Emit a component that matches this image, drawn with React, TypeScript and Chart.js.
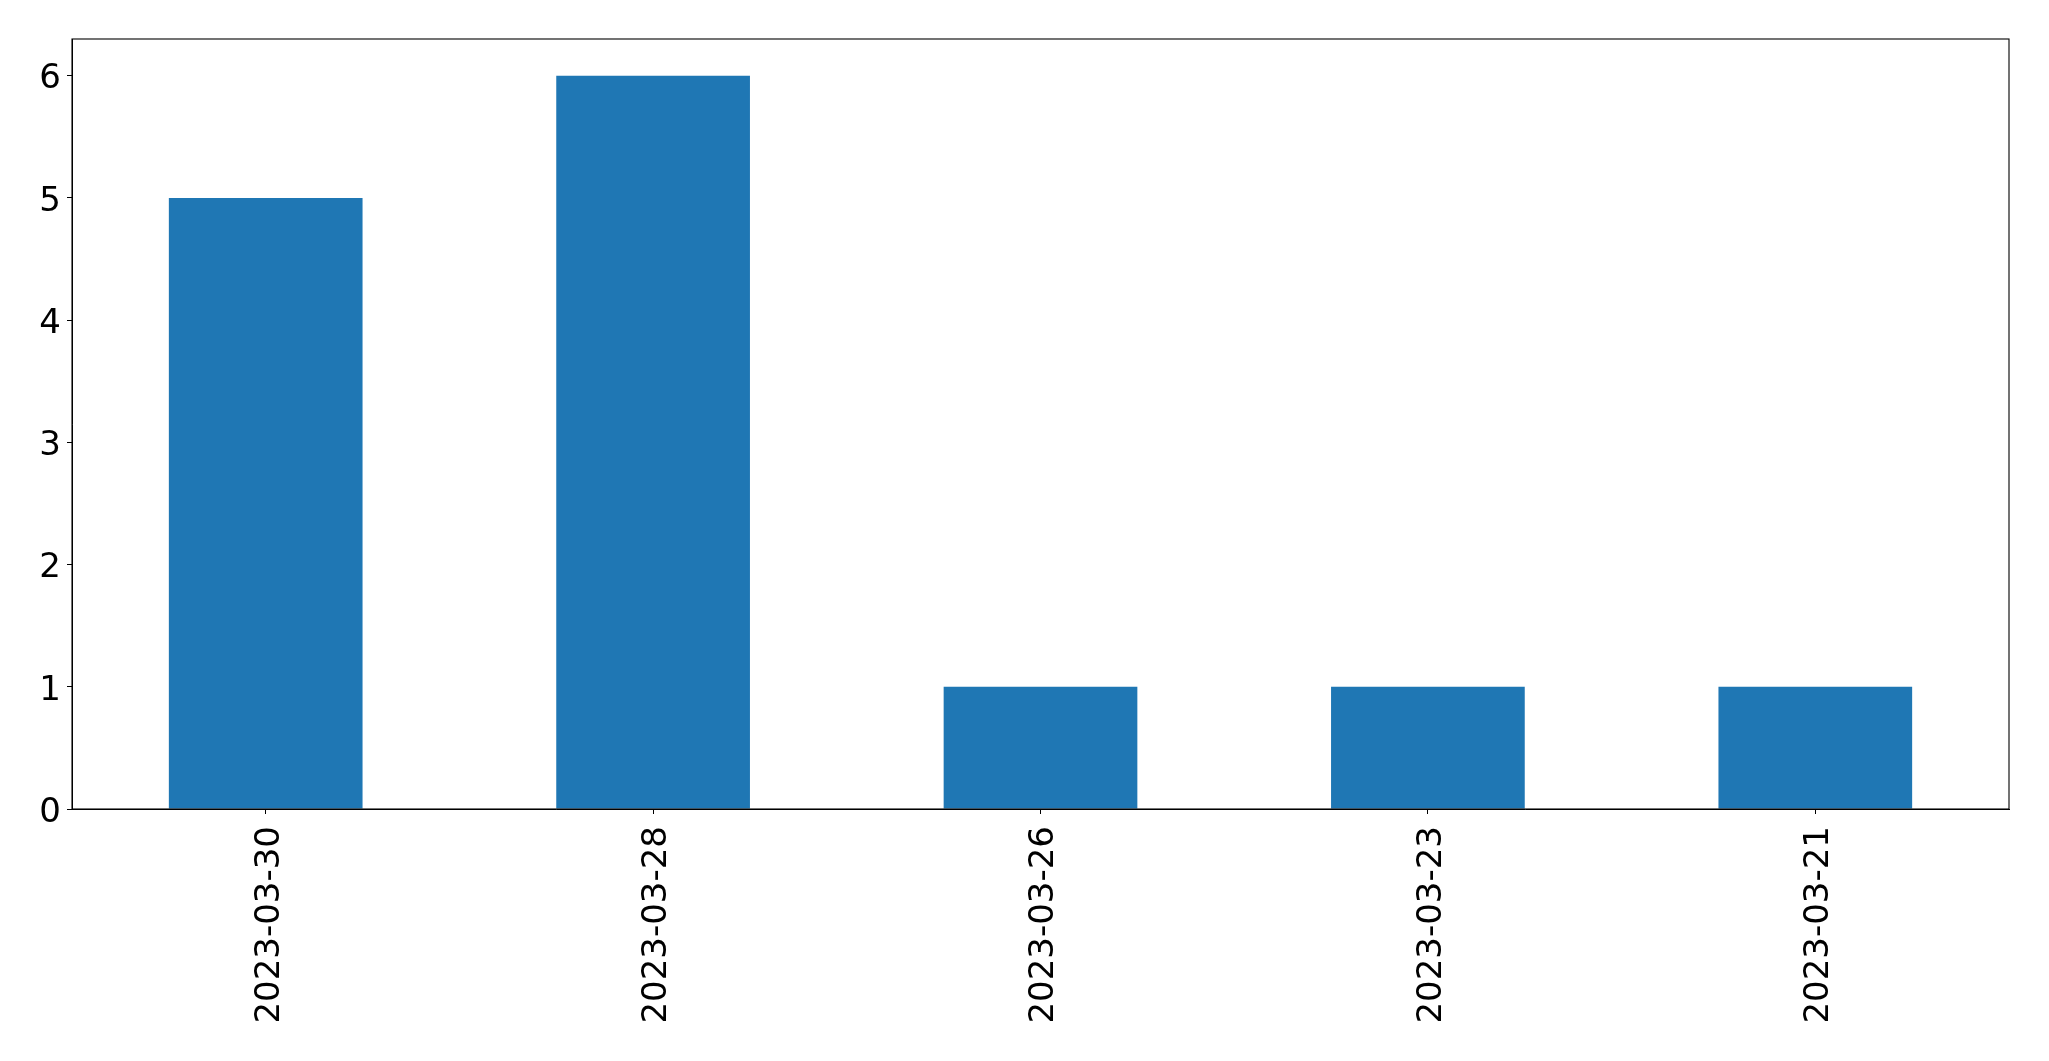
import React, { useEffect, useRef } from "react";
import { Chart, registerables } from "chart.js";

Chart.register(...registerables);

const categories: string[] = ["2023-03-30", "2023-03-28", "2023-03-26", "2023-03-23", "2023-03-21"];
const counts: number[] = [5, 6, 1, 1, 1];
const yTickStep = 1;
const yMax = 6.3;

const W = 2049;
const H = 1061;

const framePlugin = {
  id: "frame",
  afterDatasetsDraw(chart: any) {
    const { ctx, chartArea } = chart;
    ctx.save();
    ctx.strokeStyle = "#000";
    ctx.lineWidth = 1.1;
    ctx.strokeRect(chartArea.left, chartArea.top, chartArea.right - chartArea.left, chartArea.bottom - chartArea.top);
    ctx.restore();
  },
};

export default function App() {
  const ref = useRef<HTMLCanvasElement | null>(null);
  useEffect(() => {
    if (!ref.current) return;
    const font = { family: "'DejaVu Sans'", size: 34 };
    const chart = new Chart(ref.current, {
      type: "bar",
      data: {
        labels: categories,
        datasets: [
          {
            data: counts,
            backgroundColor: "#1f77b4",
            borderWidth: 0,
            barPercentage: 0.5,
            categoryPercentage: 1,
          },
        ],
      },
      options: {
        responsive: false,
        animation: false,
        devicePixelRatio: 1,
        layout: { padding: { top: 39, right: 40, left: 0, bottom: 0 } },
        plugins: { legend: { display: false }, tooltip: { enabled: false } },
        scales: {
          x: {
            offset: true,
            grid: { display: true, drawOnChartArea: false, drawTicks: true, tickLength: 5, tickColor: "#000", offset: false },
            border: { display: true, color: "#000" },
            ticks: {
              color: "#000",
              font,
              minRotation: 90,
              maxRotation: 90,
              autoSkip: false,
              padding: 12,
              labelOffset: 4,
            },
            afterFit(scale: any) {
              scale.height = 252;
            },
          },
          y: {
            min: 0,
            max: yMax,
            grid: { display: true, drawOnChartArea: false, drawTicks: true, tickLength: 5, tickColor: "#000" },
            border: { display: true, color: "#000" },
            ticks: { stepSize: yTickStep, includeBounds: false, color: "#000", font, padding: 6, labelOffset: 4 },
            afterFit(scale: any) {
              scale.width = 72;
            },
          },
        },
      },
      plugins: [framePlugin],
    });
    return () => chart.destroy();
  }, []);
  return (
    <div style={{ position: "fixed", left: 0, top: 0, width: W, height: H, background: "#fff" }}>
      <canvas ref={ref} width={W} height={H} style={{ width: W, height: H, display: "block" }} />
    </div>
  );
}
